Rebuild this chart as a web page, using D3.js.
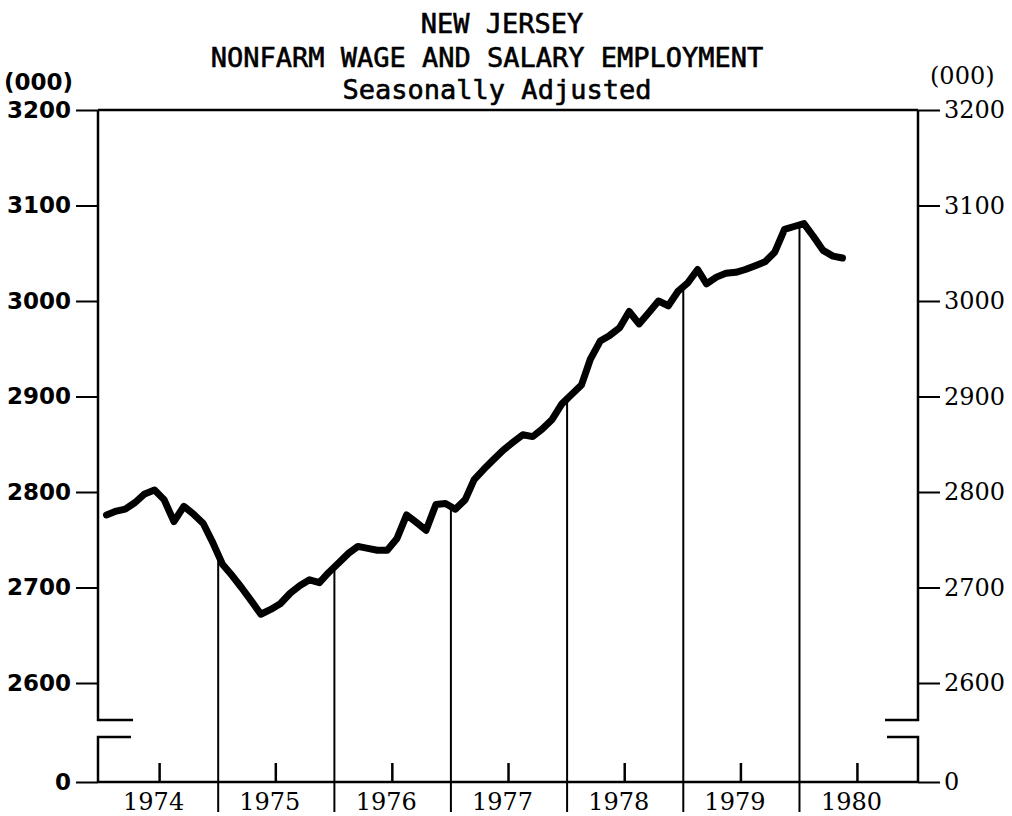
<!DOCTYPE html>
<html>
<head>
<meta charset="utf-8">
<script src="https://cdn.jsdelivr.net/npm/d3@7"></script>
<style>
body { margin: 0; background: #fff; }
.title { font-family: "DejaVu Sans Mono", monospace; font-size: 27px; fill: #000; stroke: #000; stroke-width: 0.6; }
.lax text, .lunit { font-family: "DejaVu Sans", sans-serif; font-weight: bold; font-size: 23px; fill: #000; }
.rax text, .runit, .year { font-family: "DejaVu Serif", serif; font-size: 24px; fill: #000; }
.tick line { stroke: #000; stroke-width: 2; }
</style>
</head>
<body>
<div id="chart"></div>
<script>
// monthly values, thousands, Jan 1974 onward
var startYear = 1974;
var employment = [
  2776, 2780, 2782, 2789, 2798, 2802, 2792, 2769, 2785, 2777, 2767, 2747,
  2724, 2712, 2700, 2686, 2672, 2677, 2683, 2694, 2702, 2708, 2705, 2716,
  2726, 2736, 2743, 2741, 2739, 2739, 2751, 2776, 2768, 2760, 2787, 2788,
  2782, 2792, 2813, 2824, 2834, 2844, 2852, 2860, 2858, 2866, 2876, 2892,
  2902, 2912, 2939, 2958, 2964, 2972, 2989, 2976, 2988, 3000, 2995, 3010,
  3019, 3033, 3018, 3025, 3029, 3030, 3033, 3037, 3041, 3051, 3075, 3078,
  3081, 3067, 3053, 3047, 3045
];
var yTicks = [0, 2600, 2700, 2800, 2900, 3000, 3100, 3200];
var years = [1974, 1975, 1976, 1977, 1978, 1979, 1980];
var titleLines = ["NEW JERSEY", "NONFARM WAGE AND SALARY EMPLOYMENT", "Seasonally Adjusted"];
var unitLabel = "(000)";

var width = 1012, height = 816;
var leftX = 98, rightX = 918;

var svg = d3.select("#chart")
    .append("svg")
        .attr("width", width)
        .attr("height", height);

var data = employment.map(function(v, i) {
    return { date: new Date(startYear, i, 15), value: v };
});

// Set the ranges (axis is broken between 0 and 2600)
var x = d3.scaleTime()
    .domain([new Date(1974, 0, 1), new Date(1981, 0, 1)])
    .range([102, 916]);
var y = d3.scaleLinear()
    .domain([0, 2600, 3200])
    .range([782, 683, 110]);

// titles
var titlePos = [[502, 33], [487, 67], [497, 99]];
svg.selectAll(".title")
    .data(titleLines)
    .enter().append("text")
    .attr("class", "title")
    .attr("text-anchor", "middle")
    .attr("x", function(d, i) { return titlePos[i][0]; })
    .attr("y", function(d, i) { return titlePos[i][1]; })
    .text(function(d) { return d; });

svg.append("text").attr("class", "lunit").attr("x", 4).attr("y", 90).text(unitLabel);
svg.append("text").attr("class", "runit").attr("x", 930).attr("y", 84).text(unitLabel);

// axes
var lax = svg.append("g")
    .attr("class", "lax")
    .attr("transform", "translate(" + leftX + ",0)")
    .call(d3.axisLeft(y).tickValues(yTicks).tickFormat(d3.format("d")).tickSize(22).tickPadding(5));
lax.select(".domain").remove();

var rax = svg.append("g")
    .attr("class", "rax")
    .attr("transform", "translate(" + rightX + ",0)")
    .call(d3.axisRight(y).tickValues(yTicks).tickFormat(d3.format("d")).tickSize(22).tickPadding(4));
rax.select(".domain").remove();

var breakTop = y(2600) + 37, breakBot = y(2600) + 54;
var frame = d3.path();
// left axis with break
frame.moveTo(leftX, y(3200)); frame.lineTo(leftX, breakTop); frame.lineTo(leftX + 35, breakTop);
frame.moveTo(leftX + 33, breakBot); frame.lineTo(leftX, breakBot); frame.lineTo(leftX, y(0));
// right axis with break
frame.moveTo(rightX, y(3200)); frame.lineTo(rightX, breakTop); frame.lineTo(rightX - 33, breakTop);
frame.moveTo(rightX - 31, breakBot); frame.lineTo(rightX, breakBot); frame.lineTo(rightX, y(0));
// top and base lines
frame.moveTo(leftX, y(3200)); frame.lineTo(rightX, y(3200));
frame.moveTo(leftX, y(0)); frame.lineTo(rightX, y(0));

svg.append("path")
    .attr("d", frame.toString())
    .style("fill", "none")
    .style("stroke", "#000")
    .style("stroke-width", 2.5);

// year boundary lines: from the curve down past the base line
var bisect = d3.bisector(function(d) { return d.date; }).left;
function valueAt(date) {
    var i = bisect(data, date);
    var a = data[i - 1], b = data[i];
    var t = (date - a.date) / (b.date - a.date);
    return a.value + t * (b.value - a.value);
}

svg.selectAll(".yearline")
    .data(years.slice(1))
    .enter().append("line")
    .attr("class", "yearline")
    .attr("x1", function(d) { return x(new Date(d, 0, 1)); })
    .attr("x2", function(d) { return x(new Date(d, 0, 1)); })
    .attr("y1", function(d) { return y(valueAt(new Date(d, 0, 1))); })
    .attr("y2", y(0) + 30)
    .style("stroke", "#000")
    .style("stroke-width", 2);

// mid-year ticks and labels
svg.selectAll(".midtick")
    .data(years)
    .enter().append("line")
    .attr("class", "midtick")
    .attr("x1", function(d) { return x(new Date(d, 6, 1)); })
    .attr("x2", function(d) { return x(new Date(d, 6, 1)); })
    .attr("y1", y(0))
    .attr("y2", y(0) - 19)
    .style("stroke", "#000")
    .style("stroke-width", 2.5);

svg.selectAll(".year")
    .data(years)
    .enter().append("text")
    .attr("class", "year")
    .attr("text-anchor", "middle")
    .attr("x", function(d) { return x(new Date(d, 6, 1)) - 6; })
    .attr("y", 810)
    .text(function(d) { return d; });

// Define the line
var valueline = d3.line()
    .x(function(d) { return x(d.date); })
    .y(function(d) { return y(d.value); });

svg.append("path")
    .datum(data)
    .attr("d", valueline)
    .style("fill", "none")
    .style("stroke", "#000")
    .style("stroke-width", 7)
    .style("stroke-linejoin", "round")
    .style("stroke-linecap", "round");
</script>
</body>
</html>
